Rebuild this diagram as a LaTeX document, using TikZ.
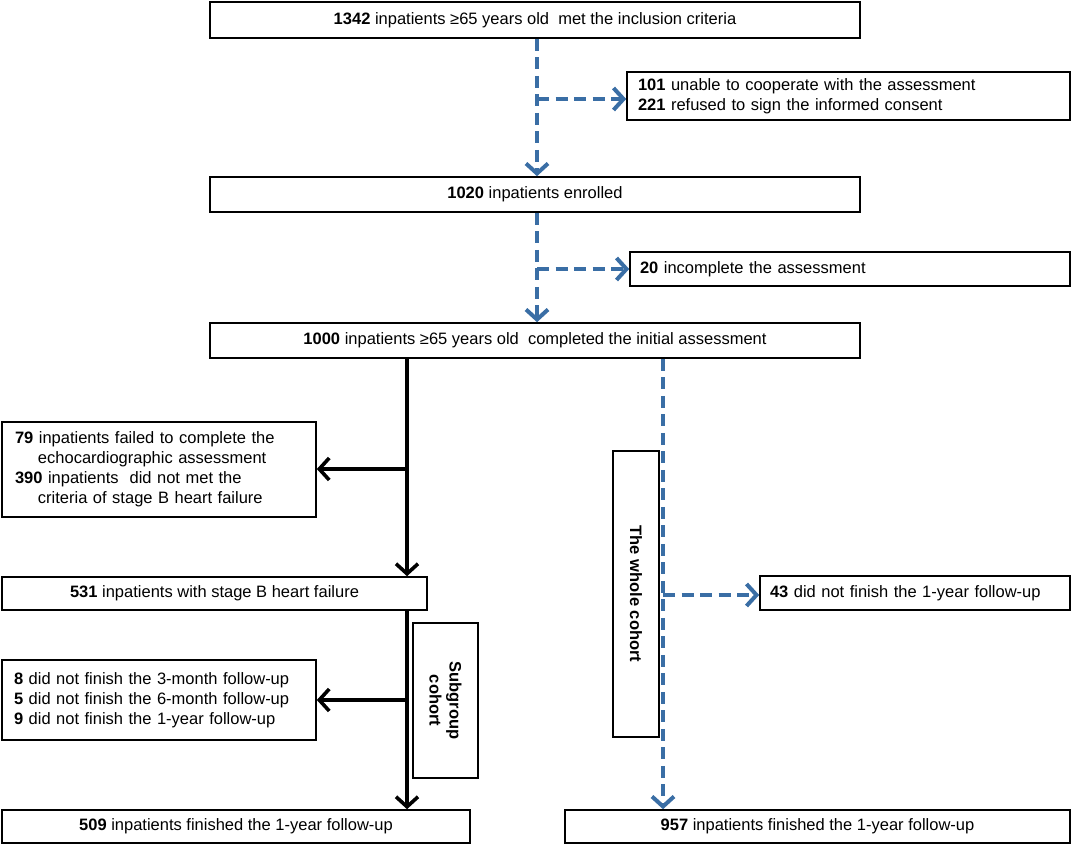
\documentclass[tikz,border=0pt]{standalone}
\usepackage{fontspec}
\setmainfont{Liberation Sans}
\usetikzlibrary{arrows.meta}
\definecolor{dblue}{RGB}{58,110,165}
\begin{document}
\begin{tikzpicture}[x=1pt,y=-1pt,
  font=\fontsize{16.5}{20}\selectfont,
  box/.style={draw, line width=1.6pt, inner sep=0pt, align=center},
  lbox/.style={box, align=left, text width=#1},
  bluearrow/.style={draw=dblue, line width=3.8pt, dash pattern=on 12pt off 6.5pt, -{Straight Barb[length=10pt,width=22pt,line width=4pt]}},
  blackarrow/.style={draw=black, line width=3.4pt, -{Straight Barb[length=10pt,width=22pt,line width=3.6pt]}}]
\useasboundingbox (0,0) rectangle (1074,845);

\node[box, minimum width=650pt, minimum height=36pt] (top) at (535,20)
  {\textbf{1342} inpatients ≥65 years old~ met the inclusion criteria};
\node[lbox=421pt, inner xsep=11pt, minimum height=48pt] (box1) at (848.5,96)
  {\textbf{101} unable to cooperate with the assessment\\\textbf{221} refused to sign the informed consent};
\node[box, minimum width=650pt, minimum height=35pt] (b1020) at (535,194.5)
  {\textbf{1020} inpatients enrolled};
\node[lbox=420pt, inner xsep=10pt, minimum height=34pt] (b20) at (850,269)
  {\textbf{20} incomplete the assessment};
\node[box, minimum width=650pt, minimum height=35pt] (b1000) at (535,340.5)
  {\textbf{1000} inpatients ≥65 years old~ completed the initial assessment};
\node[lbox=288pt, inner xsep=13pt, minimum height=95pt] (bleft) at (159,469.5)
  {\textbf{79} inpatients failed to complete the\\\hspace*{23pt}echocardiographic assessment\\\textbf{390} inpatients~ did not met the\\\hspace*{23pt}criteria of stage B heart failure};
\node[box, minimum width=425pt, minimum height=33pt] (b531) at (214.5,593.5)
  {\textbf{531} inpatients with stage B heart failure};
\node[box, rotate=-90, minimum width=155pt, minimum height=65pt, font=\fontsize{16.5}{20}\selectfont\bfseries] (bsub) at (445.5,700.5)
  {Subgroup\\cohort};
\node[box, rotate=-90, minimum width=286pt, minimum height=46pt, font=\fontsize{16.5}{20}\selectfont\bfseries] (bwhole) at (636,594)
  {The whole cohort};
\node[lbox=290pt, inner xsep=10pt, minimum height=34pt] (b43) at (915,593)
  {\textbf{43} did not finish the 1-year follow-up};
\node[lbox=290pt, inner xsep=12pt, minimum height=80pt] (b859) at (159,700)
  {\textbf{8} did not finish the 3-month follow-up\\\textbf{5} did not finish the 6-month follow-up\\\textbf{9} did not finish the 1-year follow-up};
\node[box, minimum width=468pt, minimum height=33pt] (b509) at (236,826.5)
  {\textbf{509} inpatients finished the 1-year follow-up};
\node[box, minimum width=505pt, minimum height=33pt] (b957) at (817.5,826.5)
  {\textbf{957} inpatients finished the 1-year follow-up};

\coordinate (cx) at (537,0);
\coordinate (lx) at (407,0);
\coordinate (rx) at (663,0);
\coordinate (j1) at (537,99);
\coordinate (j2) at (537,269);
\coordinate (j3) at (407,469);
\coordinate (j4) at (407,700);
\coordinate (j5) at (663,595);

\draw[bluearrow] (top.south -| cx) -- (b1020.north -| cx);
\draw[bluearrow] (j1) -- (j1 -| box1.west);
\draw[bluearrow] (b1020.south -| cx) -- (b1000.north -| cx);
\draw[bluearrow] (j2) -- (j2 -| b20.west);
\draw[bluearrow] (b1000.south -| rx) -- (b957.north -| rx);
\draw[bluearrow] (j5) -- (j5 -| b43.west);

\draw[blackarrow] (b1000.south -| lx) -- (b531.north -| lx);
\draw[blackarrow] (j3) -- (j3 -| bleft.east);
\draw[blackarrow] (b531.south -| lx) -- (b509.north -| lx);
\draw[blackarrow] (j4) -- (j4 -| b859.east);
\end{tikzpicture}
\end{document}
